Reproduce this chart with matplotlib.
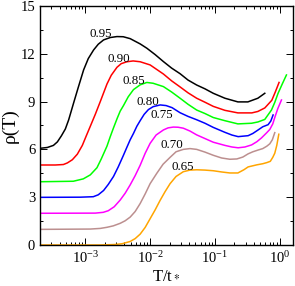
import numpy as np
import matplotlib
matplotlib.use('Agg')
import matplotlib.pyplot as plt
from matplotlib.ticker import MultipleLocator, LogLocator, NullFormatter

plt.rcParams['font.family'] = ['Liberation Serif', 'DejaVu Serif']
plt.rcParams['mathtext.fontset'] = 'stix'

# curve labels (filling) and colours
fillings = ['0.95', '0.90', '0.85', '0.80', '0.75', '0.70', '0.65']
colors = ['black', 'red', '#00ff00', 'blue', '#ff00ff', '#bc8f8f', '#ffa500']

# log10(T/t*) and rho(T)
lgT_095 = [-3.692, -3.585, -3.492, -3.431, -3.369, -3.308, -3.257, -3.18, -3.108, -3.026,
           -2.954, -2.872, -2.8, -2.718, -2.615, -2.512, -2.415, -2.308, -2.154, -2.051,
           -1.923, -1.795, -1.668, -1.538, -1.415, -1.282, -1.154, -1.026, -0.846, -0.646,
           -0.492, -0.338, -0.231]
rho_095 = [6.07, 6.12, 6.25, 6.47, 6.85, 7.28, 7.85, 8.92, 9.9, 10.99,
           11.7, 12.24, 12.6, 12.87, 13.02, 13.08, 13.07, 12.95, 12.62, 12.35,
           11.95, 11.51, 11.1, 10.75, 10.35, 10.04, 9.8, 9.52, 9.21, 8.98,
           8.98, 9.21, 9.52]

lgT_090 = [-3.692, -3.462, -3.338, -3.277, -3.2, -3.123, -3.046, -2.985, -2.923, -2.846,
           -2.769, -2.666, -2.6, -2.512, -2.446, -2.358, -2.262, -2.154, -2.0, -1.795,
           -1.668, -1.538, -1.415, -1.282, -1.154, -1.026, -0.846, -0.646, -0.431, -0.338,
           -0.231, -0.123, -0.069, -0.011]
rho_090 = [5.02, 5.02, 5.05, 5.15, 5.35, 5.7, 6.25, 6.85, 7.45, 8.2,
           9.0, 10.1, 10.65, 11.15, 11.38, 11.5, 11.55, 11.5, 11.3, 10.73,
           10.3, 9.92, 9.55, 9.21, 8.96, 8.7, 8.45, 8.29, 8.29, 8.38,
           8.6, 9.08, 9.6, 10.2]

lgT_085 = [-3.692, -3.185, -3.031, -2.923, -2.82, -2.754, -2.666, -2.615, -2.565, -2.508,
           -2.462, -2.411, -2.338, -2.257, -2.154, -2.051, -1.954, -1.795, -1.668, -1.538,
           -1.415, -1.282, -1.154, -1.026, -0.846, -0.646, -0.435, -0.338, -0.231, -0.128,
           -0.077, -0.026, 0.038, 0.103]
rho_085 = [3.97, 4.0, 4.15, 4.4, 4.85, 5.4, 6.2, 6.8, 7.35, 7.95,
           8.4, 8.75, 9.3, 9.75, 10.05, 10.2, 10.15, 9.94, 9.6, 9.21,
           8.83, 8.47, 8.25, 8.0, 7.8, 7.6, 7.64, 7.72, 7.88, 8.47,
           8.95, 9.52, 10.1, 10.67]

lgT_080 = [-3.692, -3.077, -2.877, -2.8, -2.718, -2.646, -2.565, -2.492, -2.415, -2.362,
           -2.308, -2.257, -2.205, -2.154, -2.092, -2.026, -1.954, -1.846, -1.754, -1.662,
           -1.538, -1.415, -1.282, -1.154, -1.026, -0.846, -0.738, -0.642, -0.488, -0.415,
           -0.334, -0.262, -0.18, -0.138, -0.103]
rho_080 = [2.99, 3.0, 3.03, 3.15, 3.42, 3.8, 4.3, 4.9, 5.6, 6.1,
           6.6, 7.0, 7.45, 7.8, 8.2, 8.5, 8.68, 8.79, 8.75, 8.62,
           8.3, 8.07, 7.86, 7.64, 7.38, 7.07, 6.9, 6.8, 6.86, 7.0,
           7.22, 7.42, 7.55, 7.78, 8.16]

lgT_075 = [-3.692, -2.846, -2.723, -2.646, -2.554, -2.462, -2.385, -2.308, -2.231, -2.154,
           -2.077, -2.0, -1.908, -1.795, -1.723, -1.642, -1.569, -1.488, -1.385, -1.282,
           -1.154, -1.026, -0.846, -0.738, -0.642, -0.538, -0.435, -0.354, -0.282, -0.205,
           -0.154, -0.108, -0.077, -0.031, 0.026]
rho_075 = [1.99, 2.0, 2.05, 2.15, 2.4, 2.82, 3.25, 3.77, 4.35, 5.0,
           5.75, 6.38, 6.9, 7.22, 7.35, 7.4, 7.39, 7.33, 7.15, 6.91,
           6.68, 6.45, 6.25, 6.15, 6.1, 6.15, 6.28, 6.48, 6.72, 7.03,
           7.25, 7.6, 8.0, 8.55, 9.1]

lgT_070 = [-3.692, -2.923, -2.769, -2.666, -2.569, -2.462, -2.385, -2.308, -2.231, -2.154,
           -2.077, -2.0, -1.897, -1.8, -1.692, -1.6, -1.488, -1.385, -1.282, -1.154,
           -1.026, -0.897, -0.769, -0.662, -0.569, -0.488, -0.415, -0.334, -0.262, -0.2,
           -0.154, -0.115, -0.077]
rho_070 = [0.98, 1.0, 1.04, 1.11, 1.2, 1.36, 1.52, 1.75, 2.1, 2.6,
           3.2, 3.85, 4.5, 5.07, 5.5, 5.85, 6.0, 6.05, 6.0, 5.83,
           5.63, 5.46, 5.38, 5.4, 5.52, 5.72, 5.85, 5.96, 6.05, 6.2,
           6.35, 6.6, 7.05]

lgT_065 = [-3.692, -2.769, -2.538, -2.431, -2.308, -2.231, -2.154, -2.077, -2.0, -1.923,
           -1.846, -1.769, -1.692, -1.6, -1.488, -1.385, -1.282, -1.154, -1.026, -0.892,
           -0.769, -0.646, -0.554, -0.488, -0.354, -0.262, -0.2, -0.146, -0.108, -0.077,
           -0.046, -0.015]
rho_065 = [0.0, 0.0, 0.03, 0.08, 0.22, 0.4, 0.68, 1.1, 1.65, 2.2,
           2.8, 3.35, 3.85, 4.3, 4.6, 4.7, 4.72, 4.7, 4.66, 4.58,
           4.52, 4.52, 4.72, 4.9, 5.03, 5.1, 5.17, 5.25, 5.5, 5.76,
           6.25, 6.95]

lgT_all = [lgT_095, lgT_090, lgT_085, lgT_080, lgT_075, lgT_070, lgT_065]
rho_all = [rho_095, rho_090, rho_085, rho_080, rho_075, rho_070, rho_065]

# where the filling labels sit
label_T = [1.76e-3, 3.3e-3, 5.7e-3, 9.3e-3, 0.0153, 0.0219, 0.032]
label_rho = [13.25, 11.68, 10.3, 8.98, 8.16, 6.28, 4.9]

fig = plt.figure(figsize=(2.95, 2.86), dpi=100)
ax = fig.add_axes([0.1356, 0.1434, 0.8576, 0.8357])

for lgT, rho, c in zip(lgT_all, rho_all, colors):
    ax.plot(10.0 ** np.array(lgT), rho, color=c, linewidth=1.1)

for lab, x, y in zip(fillings, label_T, label_rho):
    ax.text(x, y, lab, fontsize=9.3, ha='center', va='center')

ax.set_xscale('log')
ax.set_xlim(2e-4, 1.6)
ax.set_ylim(0, 15)
ax.yaxis.set_major_locator(MultipleLocator(3))
ax.yaxis.set_minor_locator(MultipleLocator(1.5))
ax.xaxis.set_major_locator(LogLocator(base=10, numticks=10))
ax.xaxis.set_minor_locator(LogLocator(base=10, subs=np.arange(2, 10), numticks=20))
ax.xaxis.set_minor_formatter(NullFormatter())

ax.tick_params(which='both', direction='in', top=True, right=True,
               labelsize=10.5, width=0.7)
ax.tick_params(which='major', length=5)
ax.tick_params(which='minor', length=2.5)
for s in ax.spines.values():
    s.set_linewidth(1.0)

ax.set_xlabel(r'T/t$_*$', fontsize=12, labelpad=1)
ax.set_ylabel(r'ρ(T)', fontsize=14, labelpad=1)

fig.savefig('out.png', dpi=100)
